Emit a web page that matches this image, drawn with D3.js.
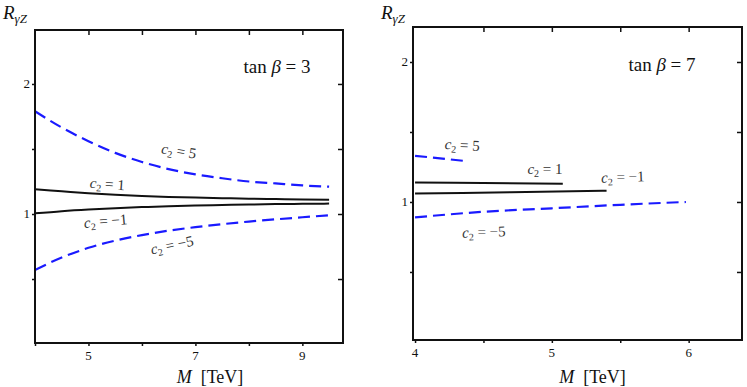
<!DOCTYPE html>
<html>
<head>
<meta charset="utf-8">
<script src="https://cdn.jsdelivr.net/npm/d3@7"></script>
<style>
  body { margin: 0; background: #fff; }
  svg { display: block; }
</style>
</head>
<body>
<div id="vis"></div>
<script>
// left panel, tan beta = 3
var leftM = [4, 4.5, 5, 5.5, 6, 6.5, 7, 7.5, 8, 8.5, 9, 9.5];
var leftC5 = [1.79, 1.665, 1.56, 1.47, 1.40, 1.345, 1.305, 1.275, 1.25, 1.235, 1.22, 1.21];
var leftC1 = [1.19, 1.175, 1.16, 1.148, 1.138, 1.131, 1.126, 1.122, 1.118, 1.115, 1.112, 1.11];
var leftCm1 = [1.005, 1.022, 1.035, 1.045, 1.053, 1.06, 1.065, 1.069, 1.073, 1.076, 1.078, 1.08];
var leftCm5 = [0.57, 0.665, 0.74, 0.795, 0.838, 0.872, 0.899, 0.922, 0.942, 0.959, 0.975, 0.99];

// right panel, tan beta = 7 (curves stop at different M)
var rightM5 = [4, 4.2, 4.39];
var rightC5 = [1.33, 1.31, 1.29];
var rightM1 = [4, 4.5, 5.08];
var rightC1 = [1.14, 1.135, 1.13];
var rightMm1 = [4, 4.7, 5.4];
var rightCm1 = [1.06, 1.07, 1.08];
var rightMm5 = [4, 4.5, 5, 5.5, 5.98];
var rightCm5 = [0.89, 0.93, 0.955, 0.98, 1.0];

var leftXTicks = [4, 5, 6, 7, 8, 9];
var leftXLabels = [5, 7, 9];
var rightXTicks = [4, 4.5, 5, 5.5, 6];
var rightXLabels = [4, 5, 6];
var yTicks = [0.5, 1, 1.5, 2];
var yLabels = [1, 2];

var FONT = 'Liberation Serif';

var svg = d3.select('#vis').append('svg')
  .attr('width', 747)
  .attr('height', 387);

// builds one panel: frame, ticks, curves and labels
function drawPanel(opt) {
  var x = d3.scaleLinear().domain(opt.xDomain).range([opt.left, opt.right]);
  var y = d3.scaleLinear().domain(opt.yDomain).range([opt.bottom, opt.top]);
  var g = svg.append('g');

  var line = d3.line()
    .x(function (d) { return x(d[0]); })
    .y(function (d) { return y(d[1]); })
    .curve(d3.curveMonotoneX);

  opt.series.forEach(function (s) {
    var pts = s.m.map(function (m, i) { return [m, s.v[i]]; });
    g.append('path')
      .attr('d', line(pts))
      .attr('fill', 'none')
      .attr('stroke', s.dashed ? '#1a1aff' : '#111')
      .attr('stroke-width', s.dashed ? 2.2 : 2)
      .attr('stroke-dasharray', s.dashed ? '12,6' : null);
  });

  // bottom axis (outward ticks)
  g.append('g')
    .attr('transform', 'translate(0,' + opt.bottom + ')')
    .call(d3.axisBottom(x).tickValues(opt.xTicks).tickSize(3).tickFormat(''))
    .call(function (a) { a.select('.domain').remove(); });
  // top axis (inward ticks)
  g.append('g')
    .attr('transform', 'translate(0,' + opt.top + ')')
    .call(d3.axisBottom(x).tickValues(opt.xTicks.filter(function (t) { return t > opt.xDomain[0] + 0.1; })).tickSize(5).tickFormat(''))
    .call(function (a) { a.select('.domain').remove(); });
  // left axis (outward)
  g.append('g')
    .attr('transform', 'translate(' + opt.left + ',0)')
    .call(d3.axisLeft(y).tickValues(yTicks).tickSize(3).tickFormat(''))
    .call(function (a) { a.select('.domain').remove(); });
  // right axis (inward)
  g.append('g')
    .attr('transform', 'translate(' + opt.right + ',0)')
    .call(d3.axisLeft(y).tickValues(yTicks).tickSize(5).tickFormat(''))
    .call(function (a) { a.select('.domain').remove(); });
  g.selectAll('.tick line').attr('stroke', '#111').attr('stroke-width', 1.5);

  g.selectAll('.xlab').data(opt.xLabels).enter().append('text')
    .attr('x', function (d) { return x(d); })
    .attr('y', opt.bottom + 17)
    .attr('text-anchor', 'middle')
    .attr('fill', '#111')
    .style('font-family', FONT)
    .style('font-size', '13px')
    .text(function (d) { return d; });
  g.selectAll('.ylab').data(yLabels).enter().append('text')
    .attr('x', opt.left - 5)
    .attr('y', function (d) { return y(d) + 4; })
    .attr('text-anchor', 'end')
    .attr('fill', '#111')
    .style('font-family', FONT)
    .style('font-size', '13px')
    .text(function (d) { return d; });

  // frame
  g.append('rect')
    .attr('x', opt.left).attr('y', opt.top)
    .attr('width', opt.right - opt.left).attr('height', opt.bottom - opt.top)
    .attr('fill', 'none').attr('stroke', '#111').attr('stroke-width', 2);

  // y title R_{gamma Z}
  var yt = g.append('text')
    .attr('x', opt.left - 32).attr('y', 19)
    .attr('fill', '#111')
    .style('font-family', FONT)
    .style('font-size', '19px');
  yt.append('tspan').style('font-style', 'italic').text('R');
  yt.append('tspan').style('font-style', 'italic').style('font-size', '13px').attr('dy', 4).text('γZ');

  // x title
  var xt = g.append('text')
    .attr('x', (opt.left + opt.right) / 2 + opt.xTitleShift).attr('y', 383)
    .attr('text-anchor', 'middle')
    .attr('fill', '#111')
    .style('font-family', FONT)
    .style('font-size', '18px');
  xt.append('tspan').style('font-style', 'italic').text('M');
  xt.append('tspan').text('\u00a0 [TeV]');

  // tan beta
  var tb = g.append('text')
    .attr('x', opt.tanPos[0]).attr('y', opt.tanPos[1])
    .attr('text-anchor', 'middle')
    .attr('fill', '#111')
    .style('font-family', FONT)
    .style('font-size', '19px');
  tb.append('tspan').text('tan\u00a0');
  tb.append('tspan').style('font-style', 'italic').text('β');
  tb.append('tspan').text('\u00a0=\u00a0' + opt.tanB);

  // curve labels
  opt.labels.forEach(function (l) {
    var t = g.append('text')
      .attr('transform', 'translate(' + l.x + ',' + l.y + ') rotate(' + l.rot + ')')
      .attr('text-anchor', 'middle')
      .attr('fill', '#333')
      .style('font-family', FONT)
      .style('font-size', '15px');
    t.append('tspan').style('font-style', 'italic').text('c');
    t.append('tspan').style('font-size', '10px').attr('dy', 3).text('2');
    t.append('tspan').attr('dy', -3).text('\u00a0=\u00a0' + l.text);
  });
}

drawPanel({
  left: 35, right: 343, top: 30, bottom: 343,
  xDomain: [4, 9.76], yDomain: [0.008, 2.415],
  xTicks: leftXTicks, xLabels: leftXLabels, xTitleShift: 21,
  tanB: 3, tanPos: [277, 73],
  series: [
    { m: leftM, v: leftC5, dashed: true },
    { m: leftM, v: leftC1, dashed: false },
    { m: leftM, v: leftCm1, dashed: false },
    { m: leftM, v: leftCm5, dashed: true }
  ],
  labels: [
    { text: '5', x: 178, y: 156, rot: 9 },
    { text: '1', x: 107, y: 189, rot: 4 },
    { text: '−1', x: 106, y: 226, rot: -5 },
    { text: '−5', x: 173, y: 250, rot: -12 }
  ]
});

drawPanel({
  left: 413, right: 742, top: 27, bottom: 340,
  xDomain: [3.985, 6.39], yDomain: [0.014, 2.25],
  xTicks: rightXTicks, xLabels: rightXLabels, xTitleShift: 15,
  tanB: 7, tanPos: [662, 71],
  series: [
    { m: rightM5, v: rightC5, dashed: true },
    { m: rightM1, v: rightC1, dashed: false },
    { m: rightMm1, v: rightCm1, dashed: false },
    { m: rightMm5, v: rightCm5, dashed: true }
  ],
  labels: [
    { text: '5', x: 462, y: 150, rot: 3 },
    { text: '1', x: 545, y: 174, rot: 0 },
    { text: '−1', x: 623, y: 182, rot: -2 },
    { text: '−5', x: 484, y: 237, rot: -2 }
  ]
});
</script>
</body>
</html>
